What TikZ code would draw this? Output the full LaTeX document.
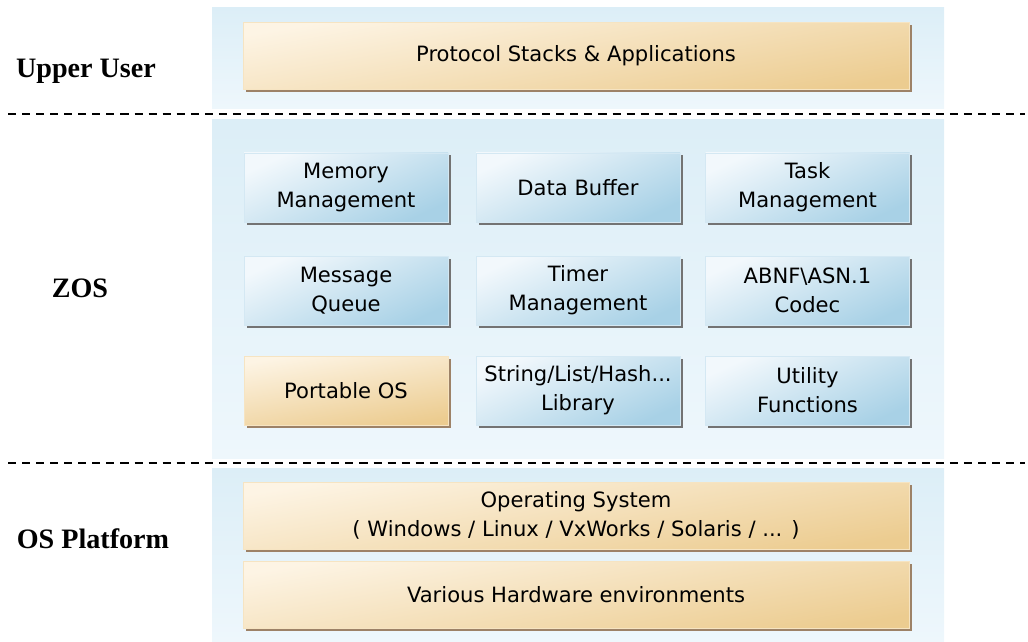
\documentclass[tikz,border=0pt]{standalone}
\usepackage{fontspec}
\setmainfont{Liberation Serif}
\newfontfamily\boxfont{DejaVu Sans}
\usepackage{tikz}
\usepackage{xcolor}
\usetikzlibrary{positioning,shadows}

\definecolor{panelA}{HTML}{DCEEF7}
\definecolor{panelB}{HTML}{EEF7FC}
\definecolor{tanA}{HTML}{FDF4E4}
\definecolor{tanB}{HTML}{ECCC90}
\definecolor{skyA}{HTML}{F2F8FC}
\definecolor{skyB}{HTML}{A8D1E6}

\begin{document}
\begin{tikzpicture}[
        panel/.style={
            top color=panelA,
            bottom color=panelB,
            draw=none
        },
        box/.style={
            rectangle,
            minimum width=4.08cm,
            minimum height=1.38cm,
            inner sep=0pt,
            align=center,
            font=\boxfont\fontsize{12}{16.6}\selectfont,
            draw=skyA!60!skyB,
            line width=0.4pt,
            top color=skyA,
            bottom color=skyB,
            shading angle=25,
            drop shadow={shadow xshift=0.05cm, shadow yshift=-0.05cm,
                fill=black!55, opacity=1}
        },
        tanbox/.style={
            box,
            draw=tanA!60!tanB,
            top color=tanA,
            bottom color=tanB,
            shading angle=10,
            drop shadow={shadow xshift=0.05cm, shadow yshift=-0.05cm,
                fill=brown!60!black!70, opacity=1}
        },
        wide/.style={
            minimum width=13.32cm,
            minimum height=1.35cm
        },
        tier/.style={
            font=\fontsize{16}{19}\selectfont\bfseries,
            anchor=base
        },
        divider/.style={
            line width=1.1pt,
            dash pattern=on 4.6pt off 3.4pt
        }
    ]
        \useasboundingbox (0,0) rectangle (20.56,-12.82);

        % background bands
        \fill[panel] (4.24,-0.16) rectangle (18.88,-2.18);
        \fill[panel] (4.24,-2.40) rectangle (18.88,-9.16);
        \fill[panel] (4.24,-9.36) rectangle (18.88,-12.82);

        % separators
        \coordinate (sepA west) at (0.16,-2.28);
        \coordinate (sepA east) at (20.50,-2.28);
        \coordinate (sepB west) at (0.16,-9.26);
        \coordinate (sepB east) at (20.50,-9.26);
        \draw[divider] (sepA west) -- (sepA east);
        \draw[divider] (sepB west) -- (sepB east);

        % upper user
        \node (apps) [tanbox, wide] at (11.52,-1.12) {Protocol Stacks \& Applications};

        % zos modules
        \node (memory) [box] at (6.92,-3.75) {Memory\\Management};
        \node (buffer) [box, right of=memory, node distance=4.64cm] {Data Buffer};
        \node (task) [box, right of=buffer, node distance=4.59cm] {Task\\Management};

        \node (queue) [box, below of=memory, node distance=2.06cm] {Message\\Queue};
        \node (timer) [box, right of=queue, node distance=4.64cm] {Timer\\Management};
        \node (codec) [box, right of=timer, node distance=4.59cm] {ABNF\textbackslash ASN.1\\Codec};

        \node (portos) [tanbox, below of=queue, node distance=2.0cm] {Portable OS};
        \node (strlib) [box, right of=portos, node distance=4.64cm] {String/List/Hash...\\Library};
        \node (utils) [box, right of=strlib, node distance=4.59cm] {Utility\\Functions};

        % os platform
        \node (opsys) [tanbox, wide, minimum height=1.34cm] at (11.52,-10.31) {Operating System\\( Windows / Linux / VxWorks / Solaris / ... )};
        \node (hardware) [tanbox, wide, minimum height=1.34cm, below of=opsys, node distance=1.58cm] {Various Hardware environments};

        % layer names
        \node (upper) [tier] at (1.72,-1.56) {Upper User};
        \node (zos) [tier] at (1.60,-5.94) {ZOS};
        \node (platform) [tier] at (1.86,-10.96) {OS Platform};
    \end{tikzpicture}
\end{document}
